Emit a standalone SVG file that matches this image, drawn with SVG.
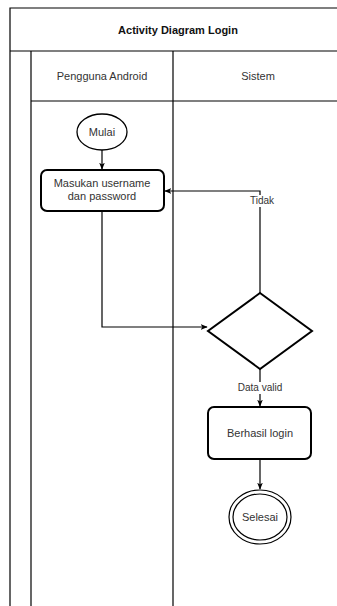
<svg xmlns="http://www.w3.org/2000/svg" width="337" height="606" viewBox="0 0 337 606">
<style>
.ln{fill:none;stroke:#000;stroke-width:1.2}
.shape{fill:#fff;stroke:#000;stroke-width:2}
.t{font-family:"Liberation Sans",Arial,sans-serif;font-size:11px;fill:#333;text-anchor:middle}
.b{font-weight:bold;fill:#111}
.edge{fill:none;stroke:#000;stroke-width:1.2}
</style>
<defs>
<marker id="ah" viewBox="0 0 10 10" refX="9" refY="5" markerWidth="7" markerHeight="7" orient="auto" markerUnits="userSpaceOnUse">
<path d="M0,1 L10,5 L0,9 L2.5,5 Z" fill="#000"/>
</marker>
</defs>
<rect width="337" height="606" fill="#fff"/>
<g id="swimlane">
<path class="ln" d="M10,606 V8 H337"/>
<path class="ln" d="M10,51 H337"/>
<path class="ln" d="M31,51 V606"/>
<path class="ln" d="M173,51 V606"/>
<path class="ln" d="M31,101 H337"/>
<text class="t b" x="178" y="34">Activity Diagram Login</text>
<text class="t" x="102" y="80">Pengguna Android</text>
<text class="t" x="258" y="80">Sistem</text>
</g>
<g id="connectors">
<path class="edge" d="M102,150 V169" marker-end="url(#ah)"/>
<path class="edge" d="M102,211 V327 H207" marker-end="url(#ah)"/>
<path class="edge" d="M260,293 V191 H165" marker-end="url(#ah)"/>
<path class="edge" d="M260,369 V406" marker-end="url(#ah)"/>
<path class="edge" d="M260,459 V489" marker-end="url(#ah)"/>
<rect x="245" y="195" width="32" height="12" fill="#fff"/>
<text class="t" x="262" y="204" style="font-size:10px">Tidak</text>
<rect x="233" y="382" width="54" height="12" fill="#fff"/>
<text class="t" x="260" y="391" style="font-size:10px">Data valid</text>
</g>
<g id="mulai">
<ellipse class="shape" cx="102" cy="132" rx="25" ry="18" style="stroke-width:1.3"/>
<text class="t" x="102" y="136">Mulai</text>
</g>
<g id="masukan">
<rect class="shape" x="41" y="170" width="123" height="41" rx="6"/>
<text class="t" x="102" y="187">Masukan username</text>
<text class="t" x="102" y="200">dan password</text>
</g>
<g id="decision">
<path class="shape" d="M260,293 L312,331 L260,369 L208,331 Z"/>
</g>
<g id="berhasil">
<rect class="shape" x="208" y="407" width="103" height="52" rx="6"/>
<text class="t" x="260" y="437">Berhasil login</text>
</g>
<g id="selesai">
<ellipse class="shape" cx="260" cy="517" rx="31" ry="27" style="stroke-width:1.2"/>
<ellipse class="shape" cx="260" cy="517" rx="27" ry="23" style="stroke-width:1.2"/>
<text class="t" x="260" y="521">Selesai</text>
</g>
</svg>
